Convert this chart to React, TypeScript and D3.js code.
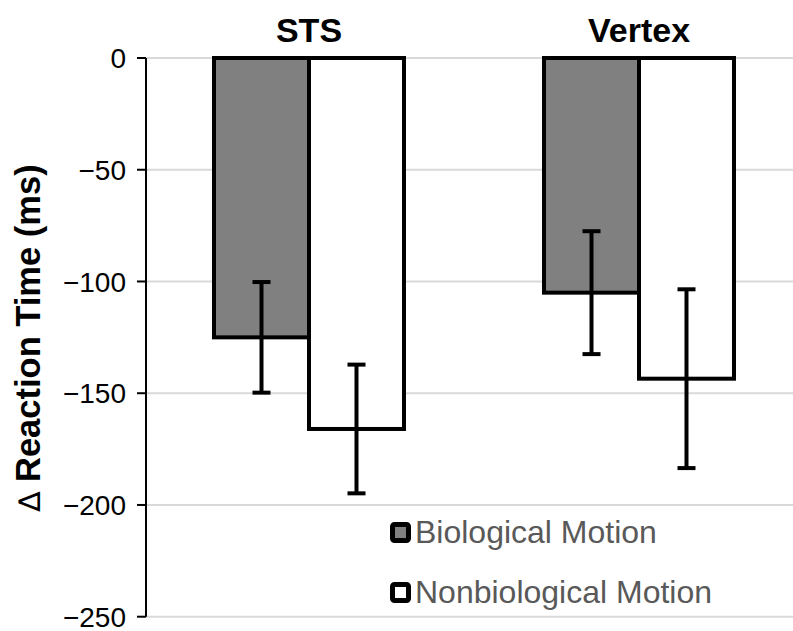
import React from "react";
import * as d3 from "d3";

const sites = ["STS", "Vertex"];
const conditions = ["Biological Motion", "Nonbiological Motion"];
const meanRT = [
  [-125, -166],
  [-105, -143.5],
];
const errRT = [
  [24.75, 28.8],
  [27.5, 40],
];
const yTicks = [0, -50, -100, -150, -200, -250];
const fills = ["#808080", "#ffffff"];

const W = 793;
const H = 631;
const FONT = "'Liberation Sans', Arial, sans-serif";

export default function App() {
  const y = d3.scaleLinear().domain([0, -250]).range([58, 616.7]);
  const x = d3.scaleBand().domain(sites).range([144, 804]);
  const inner = d3
    .scaleBand()
    .domain(conditions)
    .range([0, x.bandwidth()])
    .paddingOuter(0.737)
    .paddingInner(0);

  const axisX = 146;

  return (
    <svg
      width={W}
      height={H}
      style={{ position: "absolute", left: 0, top: 0, background: "#fff" }}
      fontFamily={FONT}
    >
      {/* gridlines */}
      {yTicks.map((t) => (
        <line
          key={"g" + t}
          x1={axisX}
          x2={W}
          y1={y(t)}
          y2={y(t)}
          stroke="#d9d9d9"
          strokeWidth={2}
        />
      ))}

      {/* bars */}
      {sites.map((s, i) =>
        conditions.map((c, j) => {
          const bx = (x(s) ?? 0) + (inner(c) ?? 0);
          const bw = inner.bandwidth();
          return (
            <rect
              key={s + c}
              x={bx}
              y={y(0)}
              width={bw}
              height={y(meanRT[i][j]) - y(0)}
              fill={fills[j]}
              stroke="#000"
              strokeWidth={4}
            />
          );
        })
      )}

      {/* error bars */}
      {sites.map((s, i) =>
        conditions.map((c, j) => {
          const cx = (x(s) ?? 0) + (inner(c) ?? 0) + inner.bandwidth() / 2;
          const top = y(meanRT[i][j] + errRT[i][j]);
          const bot = y(meanRT[i][j] - errRT[i][j]);
          return (
            <g key={"e" + s + c} stroke="#000" strokeWidth={4}>
              <line x1={cx} x2={cx} y1={top} y2={bot} />
              <line x1={cx - 9} x2={cx + 9} y1={top} y2={top} />
              <line x1={cx - 9} x2={cx + 9} y1={bot} y2={bot} />
            </g>
          );
        })
      )}

      {/* y axis */}
      <line x1={axisX} x2={axisX} y1={y(0)} y2={y(-250)} stroke="#000" strokeWidth={2} />
      {yTicks.map((t) => (
        <g key={"t" + t}>
          <line x1={137} x2={axisX} y1={y(t)} y2={y(t)} stroke="#000" strokeWidth={2} />
          <text
            x={126}
            y={y(t)}
            dy="0.36em"
            textAnchor="end"
            fontSize={28}
            fill="#000"
          >
            {t === 0 ? "0" : "\u2212" + Math.abs(t)}
          </text>
        </g>
      ))}

      {/* site titles */}
      {sites.map((s) => (
        <text
          key={"h" + s}
          x={(x(s) ?? 0) + x.bandwidth() / 2}
          y={41.5}
          textAnchor="middle"
          fontSize={34}
          fontWeight="bold"
        >
          {s}
        </text>
      ))}

      {/* y axis title */}
      <text
        transform={`translate(40,${338}) rotate(-90)`}
        textAnchor="middle"
        fontSize={34.5}
        fontWeight="bold"
      >
        <tspan fontWeight="normal" fontFamily="'DejaVu Sans', sans-serif" fontSize={30}>
          {"\u2206"}
        </tspan>
        {" Reaction Time (ms)"}
      </text>

      {/* legend */}
      {conditions.map((c, j) => {
        const ly = 532.5 + j * 60;
        return (
          <g key={"l" + c}>
            <rect
              x={392.5}
              y={ly - 8}
              width={16}
              height={16}
              rx={2}
              fill={fills[j]}
              stroke="#000"
              strokeWidth={5}
            />
            <text x={415} y={ly + 10.5} fontSize={32} fill="#595959">
              {c}
            </text>
          </g>
        );
      })}
    </svg>
  );
}
